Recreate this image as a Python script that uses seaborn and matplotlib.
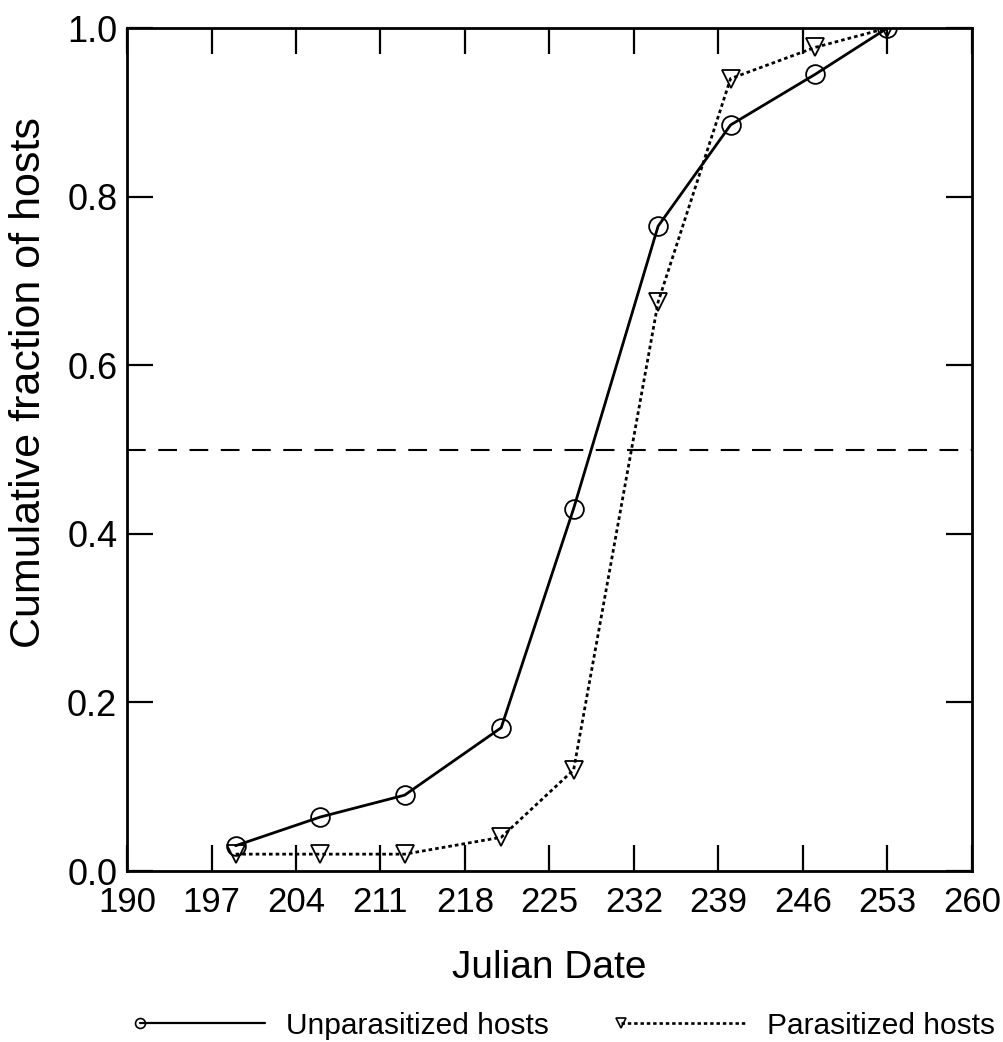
import pandas as pd
import numpy as np
import matplotlib
matplotlib.use('Agg')
import matplotlib.pyplot as plt
import seaborn as sns
from matplotlib.lines import Line2D
from matplotlib.legend_handler import HandlerLine2D

sns.set_theme(style='ticks')
plt.rcParams['font.family'] = ['Liberation Sans', 'DejaVu Sans']
plt.rcParams['text.color'] = 'black'

# values
julian_date = [199, 206, 213, 221, 227, 234, 240, 247, 253]
unparasitized = [0.03, 0.064, 0.09, 0.17, 0.43, 0.765, 0.885, 0.945, 1.0]
parasitized = [0.02, 0.02, 0.02, 0.04, 0.12, 0.675, 0.94, 0.977, 1.0]
x_ticks = [190, 197, 204, 211, 218, 225, 232, 239, 246, 253, 260]
y_ticks = [0.0, 0.2, 0.4, 0.6, 0.8, 1.0]
half_line = 0.5

df = pd.DataFrame({'Julian Date': julian_date,
                   'Unparasitized hosts': unparasitized,
                   'Parasitized hosts': parasitized})


class MarkerAtStart(HandlerLine2D):
    # legend marker sits on the left end of the line, as in the original
    def create_artists(self, *args, **kwargs):
        artists = super().create_artists(*args, **kwargs)
        for a in artists:
            a.set_markevery([0])
        return artists


fig = plt.figure(figsize=(10.04, 10.42), dpi=100)
ax = fig.add_axes([0.1265, 0.1641, 0.8416, 0.809])

ax.axhline(half_line, color='black', lw=1.5, dashes=(9, 6), zorder=1)

sns.lineplot(data=df, x='Julian Date', y='Unparasitized hosts', ax=ax,
             color='black', lw=2, marker='o', markersize=13.5,
             markerfacecolor='none', markeredgecolor='black', markeredgewidth=1.3)
sns.lineplot(data=df, x='Julian Date', y='Parasitized hosts', ax=ax,
             color='black', lw=2, linestyle=(0, (1.3, 1.1)), marker='v', markersize=13.5,
             markerfacecolor='none', markeredgecolor='black', markeredgewidth=1.3)

ax.set_xlim(190, 260)
ax.set_ylim(0, 1.0)
ax.set_xticks(x_ticks)
ax.set_yticks(y_ticks)
ax.set_yticklabels(['%.1f' % v for v in y_ticks])
ax.tick_params(axis='both', direction='in', length=19, width=1.6, color='black',
               top=True, right=True, labelcolor='black')
ax.tick_params(axis='x', pad=11, labelsize=25)
ax.tick_params(axis='y', pad=7, labelsize=26)
for s in ax.spines.values():
    s.set_visible(True)
    s.set_linewidth(2)
    s.set_color('black')

ax.set_xlabel('Julian Date', fontsize=28, labelpad=22, color='black')
ax.set_ylabel('Cumulative fraction of hosts', fontsize=31, color='black')
ax.yaxis.set_label_coords(-0.092, 0.579)

handles = [Line2D([], [], color='black', lw=1.6, marker='o', markersize=13,
                  markerfacecolor='none', markeredgewidth=1.2),
           Line2D([], [], color='black', lw=1.9, linestyle=(0, (1.3, 1.1)), marker='v',
                  markersize=13, markerfacecolor='none', markeredgewidth=1.2)]
fig.legend(handles, ['Unparasitized hosts', 'Parasitized hosts'], loc='center',
           bbox_to_anchor=(0.565, 0.0155), ncol=2, frameon=False, fontsize=21.5,
           numpoints=1, markerscale=0.55, handlelength=4.2, handletextpad=0.7,
           columnspacing=2.4, labelcolor='black', handler_map={Line2D: MarkerAtStart()})

fig.savefig('out.png', dpi=100)
